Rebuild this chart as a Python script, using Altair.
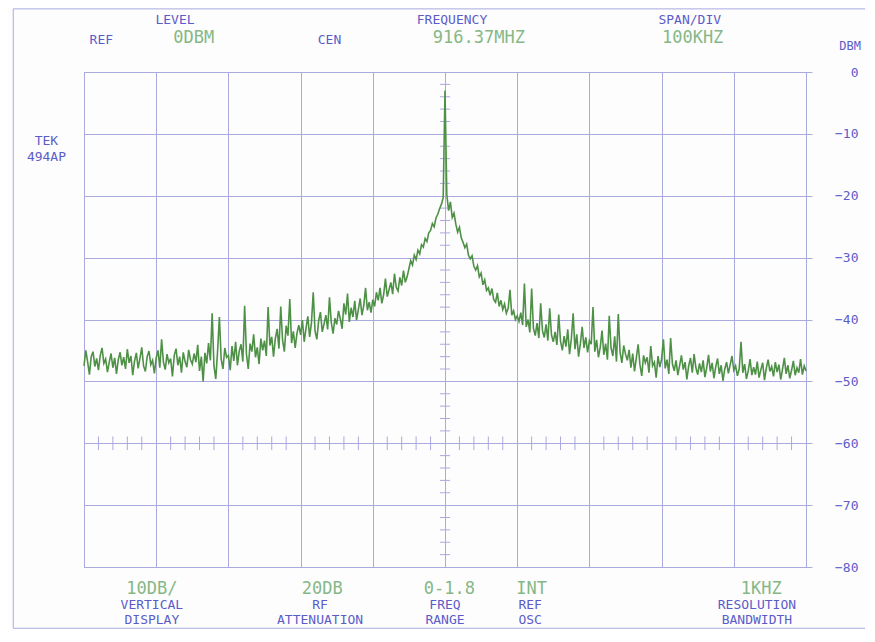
import altair as alt
import pandas as pd

# ---------------- data ----------------
freq_start_khz = -500.0
freq_step_khz = 2.5

level_dbm = [
    # -500 .. -452.5
    -47.5, -45.0, -46.8, -48.9, -46.0, -45.2, -47.6, -46.3, -48.2, -45.8,
    -44.6, -47.1, -46.4, -48.5, -46.9, -45.5, -47.8, -46.2, -48.8, -46.5,
    # -450 .. -402.5
    -45.3, -47.4, -46.1, -48.0, -44.8, -47.0, -45.9, -49.0, -46.7, -45.4,
    -47.9, -46.3, -44.5, -47.5, -48.4, -46.0, -45.1, -47.3, -46.6, -48.7,
    # -400 .. -352.5
    -46.2, -45.0, -47.8, -43.2, -46.9, -48.1, -45.6, -47.0, -46.3, -49.2,
    -45.8, -44.7, -47.4, -46.0, -48.6, -45.3, -46.8, -47.7, -44.9, -46.5,
    # -350 .. -302.5
    -47.2, -45.5, -46.9, -44.1, -48.3, -46.0, -50.0, -45.4, -47.1, -43.8,
    -46.6, -39.0, -47.5, -49.6, -45.2, -39.6, -46.4, -48.0, -44.6, -46.1,
    # -300 .. -252.5
    -45.8, -48.2, -44.3, -46.7, -43.6, -47.4, -45.1, -44.0, -46.8, -37.8,
    -45.6, -48.0, -43.9, -45.2, -42.4, -46.1, -44.5, -47.2, -43.1, -45.0,
    # -250 .. -202.5
    -43.4, -45.9, -38.0, -44.2, -42.8, -46.0, -43.1, -41.5, -44.7, -37.9,
    -43.3, -45.2, -41.0, -42.6, -36.7, -43.8, -41.9, -44.6, -42.2, -40.9,
    # -200 .. -152.5
    -42.5, -40.1, -43.6, -41.4, -39.5, -42.8, -40.6, -35.6, -41.9, -43.2,
    -40.2, -38.8, -42.0, -40.7, -39.3, -41.6, -36.4, -40.5, -42.3, -39.8,
    # -150 .. -102.5
    -40.8, -38.6, -39.9, -41.5, -37.4, -39.2, -35.8, -40.4, -38.1, -39.6,
    -37.0, -40.1, -38.4, -36.6, -39.3, -37.7, -34.9, -38.5, -37.2, -38.9,
    # -100 .. -52.5
    -36.8, -37.9, -35.6, -36.9, -34.9, -37.4, -36.0, -33.4, -36.3, -35.2,
    -34.0, -35.9, -32.6, -34.8, -35.4, -33.2, -34.5, -32.1, -34.0, -33.1,
    # -50 .. -2.5
    -31.8, -30.5, -31.2, -29.6, -30.3, -28.8, -29.4, -27.9, -28.3, -26.9,
    -27.4, -26.0, -25.6, -24.5, -25.0, -23.6, -23.0, -22.1, -21.4, -20.3,
    # 0 (carrier)
    -3.0,
    # 2.5 .. 50
    -19.8, -22.4, -21.0, -23.5, -22.8, -24.6, -25.9, -25.1, -26.8, -27.5,
    -28.4, -27.8, -29.6, -30.2, -29.7, -31.4, -32.0, -31.3, -33.1, -32.5,
    # 52.5 .. 100
    -34.4, -33.6, -35.3, -34.9, -36.1, -35.0, -36.8, -37.2, -35.7, -37.9,
    -36.9, -38.4, -37.5, -39.0, -38.2, -35.2, -39.3, -38.6, -40.0, -39.4,
    # 102.5 .. 150
    -40.3, -38.9, -40.9, -34.2, -41.2, -40.0, -42.1, -35.0, -41.4, -42.6,
    -40.6, -43.0, -37.4, -41.8, -42.9, -40.8, -43.4, -38.2, -42.5, -43.6,
    # 152.5 .. 200
    -42.0, -44.1, -39.2, -43.5, -45.0, -42.7, -44.4, -41.6, -45.6, -43.1,
    -39.0, -44.8, -42.4, -46.0, -43.9, -41.2, -44.6, -42.9, -45.3, -43.4,
    # 202.5 .. 250
    -44.0, -38.0, -45.2, -43.3, -46.1, -44.5, -41.8, -45.7, -43.9, -46.5,
    -39.4, -44.6, -45.9, -42.7, -46.8, -39.1, -45.3, -47.0, -44.2, -45.6,
    # 252.5 .. 300
    -46.6, -44.9, -47.8, -45.5, -48.4, -46.2, -44.0, -47.3, -49.1, -45.8,
    -47.0, -46.1, -48.6, -44.3, -47.5, -46.9, -49.4, -45.9, -47.7, -46.4,
    # 302.5 .. 350
    -43.2, -47.9, -46.5, -48.8, -43.0, -47.2, -48.3, -46.6, -49.0, -47.4,
    -45.8, -48.1, -46.9, -49.7, -47.5, -46.2, -48.6, -45.6, -47.8, -48.9,
    # 352.5 .. 400
    -47.1, -48.5, -46.6, -49.3, -47.8, -45.7, -48.4, -47.0, -49.5, -47.6,
    -46.3, -48.8, -47.4, -49.9, -48.0, -46.9, -48.7, -47.3, -45.9, -48.2,
    # 402.5 .. 450
    -47.5, -49.1, -48.0, -43.6, -48.6, -47.2, -49.6, -48.3, -46.4, -49.0,
    -47.7, -48.9, -46.8, -49.4, -48.1, -47.0, -49.8, -47.9, -46.5, -48.4,
    # 452.5 .. 500
    -47.6, -49.2, -46.9, -48.5, -47.3, -49.7, -48.0, -46.2, -48.8, -47.4,
    -49.5, -48.2, -46.7, -49.0, -47.8, -48.6, -46.4, -48.9, -47.5, -48.3,
]

y_tick_values = [0, -10, -20, -30, -40, -50, -60, -70, -80]
x_grid_values = [-500, -400, -300, -200, -100, 0, 100, 200, 300, 400, 500]

top_titles = ["LEVEL", "FREQUENCY", "SPAN/DIV"]
top_small = ["REF", "CEN"]
top_values = ["0DBM", "916.37MHZ", "100KHZ"]
side_label = ["TEK", "494AP"]
bottom_values = ["10DB/", "20DB", "0-1.8", "INT", "1KHZ"]
bottom_line1 = ["VERTICAL", "RF", "FREQ", "REF", "RESOLUTION"]
bottom_line2 = ["DISPLAY", "ATTENUATION", "RANGE", "OSC", "BANDWIDTH"]

# ---------------- styling ----------------
GRID = "#aaaadf"
BLUE = "#5c5cc8"
GREEN_TXT = "#86b886"
TRACE = "#4e9146"
MONO = "DejaVu Sans Mono"

freq_khz = [freq_start_khz + i * freq_step_khz for i in range(len(level_dbm))]
trace = pd.DataFrame({"f": freq_khz, "db": level_dbm})

xs = alt.Scale(domain=[-500, 500], nice=False, zero=False)
ys = alt.Scale(domain=[-80, 0], nice=False, zero=False)

x_axis = alt.Axis(values=x_grid_values, grid=True, gridColor=GRID, gridOpacity=1,
                  gridWidth=1, labels=False, ticks=False, domain=False, title=None)
y_axis = alt.Axis(orient="right", values=y_tick_values, grid=True, gridColor=GRID,
                  gridOpacity=1, gridWidth=1, ticks=True, tickColor=GRID, tickSize=6,
                  labelPadding=46, labelAlign="right", labelFont=MONO,
                  labelFontSize=13, labelColor=BLUE, domain=False, title=None)


def X(field):
    return alt.X(field, type="quantitative", scale=xs, axis=x_axis)


def Y(field):
    return alt.Y(field, type="quantitative", scale=ys, axis=y_axis)


line = alt.Chart(trace).mark_line(color=TRACE, strokeWidth=1.6).encode(
    x=X("f"), y=Y("db"))

# graticule minor ticks on the centre vertical line
cen = pd.DataFrame({"y": [v for v in range(-78, 0, 2) if v % 10 != 0]})
cen["x1"] = -7.0
cen["x2"] = 7.0
cen_ticks = alt.Chart(cen).mark_rule(color=GRID, strokeWidth=1).encode(
    x=X("x1"), x2="x2", y=Y("y"))

# graticule minor ticks on the -60 dB line
hor = pd.DataFrame({"x": [v for v in range(-480, 500, 20) if v % 100 != 0]})
hor["y1"] = -61.1
hor["y2"] = -58.9
hor_ticks = alt.Chart(hor).mark_rule(color=GRID, strokeWidth=1).encode(
    x=X("x"), y=Y("y1"), y2="y2")

# outer frame of the photo (top, bottom, left)
frame = pd.DataFrame({
    "x1": [-598, -598, -598],
    "x2": [600, 600, -598],
    "y1": [10.2, -89.9, 10.2],
    "y2": [10.2, -89.9, -89.9],
})
frame_rules = alt.Chart(frame).mark_rule(color=GRID, strokeWidth=1).encode(
    x=X("x1"), x2="x2", y=Y("y1"), y2="y2")

# annotation tables (positions in data units of the chart's scales)
blue_rows = []
for t, xp in zip(top_titles, [-374, 9.7, 339]):
    blue_rows.append({"t": t, "x": xp, "y": 8.4})
for t, xp in zip(top_small, [-476, -160]):
    blue_rows.append({"t": t, "x": xp, "y": 5.2})
for t, yp in zip(side_label, [-11.2, -13.7]):
    blue_rows.append({"t": t, "x": -552, "y": yp})
bottom_x = [-406, -173, 0, 118, 432]
for t, xp in zip(bottom_line1, bottom_x):
    blue_rows.append({"t": t, "x": xp, "y": -86.1})
for t, xp in zip(bottom_line2, bottom_x):
    blue_rows.append({"t": t, "x": xp, "y": -88.6})
blue_df = pd.DataFrame(blue_rows)

unit_df = pd.DataFrame([{"t": "DBM", "x": 561, "y": 4.2}])

green_rows = []
for t, xp in zip(top_values, [-348, 47, 343]):
    green_rows.append({"t": t, "x": xp, "y": 5.5})
for t, xp in zip(bottom_values, [-406, -170, 6, 120, 438]):
    green_rows.append({"t": t, "x": xp, "y": -83.6})
green_df = pd.DataFrame(green_rows)

blue_text = alt.Chart(blue_df).mark_text(
    font=MONO, fontSize=13, color=BLUE, align="center", baseline="middle"
).encode(x=X("x"), y=Y("y"), text="t:N")

unit_text = alt.Chart(unit_df).mark_text(
    font=MONO, fontSize=12, color=BLUE, align="center", baseline="middle"
).encode(x=X("x"), y=Y("y"), text="t:N")

green_text = alt.Chart(green_df).mark_text(
    font=MONO, fontSize=17, color=GREEN_TXT, align="center", baseline="middle"
).encode(x=X("x"), y=Y("y"), text="t:N")

chart = alt.layer(
    frame_rules, cen_ticks, hor_ticks, line, blue_text, unit_text, green_text
).properties(
    width=722, height=495,
    autosize=alt.AutoSizeParams(type="none"),
    padding={"left": 76, "top": 64, "right": 59, "bottom": 62},
    background="#fdfdfe",
).configure_view(stroke=GRID, strokeWidth=1)

chart.save("out.html", embed_options={"renderer": "svg", "actions": False})
